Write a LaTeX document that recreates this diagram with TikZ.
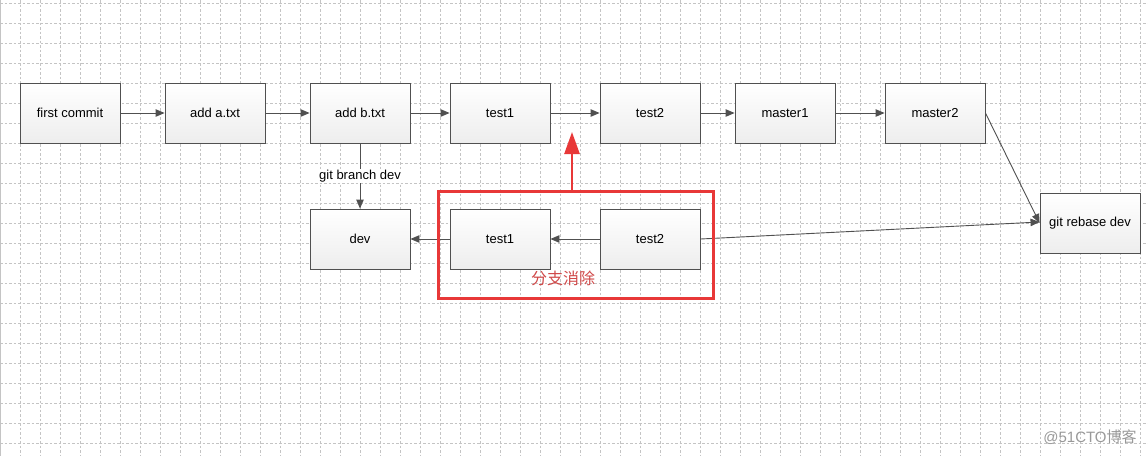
\documentclass[tikz,border=0pt]{standalone}
\usepackage{fontspec}
\setmainfont{Liberation Sans}
\newfontfamily\cjk{Noto Sans CJK SC}
\usetikzlibrary{arrows.meta}
\definecolor{boxline}{HTML}{505050}
\definecolor{gridgray}{HTML}{C4C4C4}
\definecolor{markred}{HTML}{E83838}
\definecolor{notered}{HTML}{D04848}
\tikzset{
  commit/.style={draw=boxline,line width=0.9pt,top color=white,bottom color=gray!14,
    minimum width=100pt,minimum height=60pt,inner sep=0pt,font=\fontsize{13}{15}\selectfont},
  link/.style={draw=boxline,line width=0.9pt,-{Triangle[length=9pt,width=7.5pt]}},
  gridline/.style={gridgray,line width=0.7pt,dash pattern=on 2.5pt off 2pt}
}
\begin{document}
\begin{tikzpicture}[x=1pt,y=-1pt]
\useasboundingbox (0,0) rectangle (1148,456);
\fill[white] (0,0) rectangle (1148,456);

% background grid
\foreach \x in {20,40,...,1140}
  \draw[gridline] (\x,0) -- (\x,456);
\foreach \y in {3,23,...,453}
  \draw[gridline] (0,\y) -- (1148,\y);
\draw[gridgray,line width=1pt] (0.5,0) -- (0.5,456);

% main line
\node[commit] (first) at (70,113) {first commit};
\node[commit] (adda) at (215,113) {add a.txt};
\node[commit] (addb) at (360,113) {add b.txt};
\node[commit] (mtestA) at (500,113) {test1};
\node[commit] (mtestB) at (650,113) {test2};
\node[commit] (masterA) at (785,113) {master1};
\node[commit] (masterB) at (935,113) {master2};
\node[commit] (rebase) at (1090,223) {git rebase dev};

% dev branch
\node[commit] (dev) at (360,239) {dev};
\node[commit] (dtestA) at (500,239) {test1};
\node[commit] (dtestB) at (650,239) {test2};

\draw[link] (first) -- (adda);
\draw[link] (adda) -- (addb);
\draw[link] (addb) -- (mtestA);
\draw[link] (mtestA) -- (mtestB);
\draw[link] (mtestB) -- (masterA);
\draw[link] (masterA) -- (masterB);
\draw[link] (masterB.east) -- (rebase.west);
\draw[link] (dtestB.east) -- ([yshift=1pt]rebase.west);
\draw[link] (dtestB) -- (dtestA);
\draw[link] (dtestA) -- (dev);
\draw[link] (addb) -- node[fill=white,inner sep=1pt,font=\fontsize{13}{15}\selectfont] (branchlbl) {git branch dev} (dev);

% removed branch
\node[draw=markred,line width=3pt,minimum width=275pt,minimum height=107pt,inner sep=0pt] (gone) at (575.5,244.5) {};
\node[text=notered,font=\cjk\fontsize{16}{19}\selectfont] (gonelbl) at (563,278) {分支消除};
\coordinate (tip) at (572,132);
\draw[markred,line width=2.5pt,-{Triangle[length=22pt,width=15pt]}] (gone.north -| tip) -- (tip);

\node[text=gray!80,font=\fontsize{15}{17}\selectfont] (mark) at (1090,437) {@51CTO\cjk 博客};
\end{tikzpicture}
\end{document}
